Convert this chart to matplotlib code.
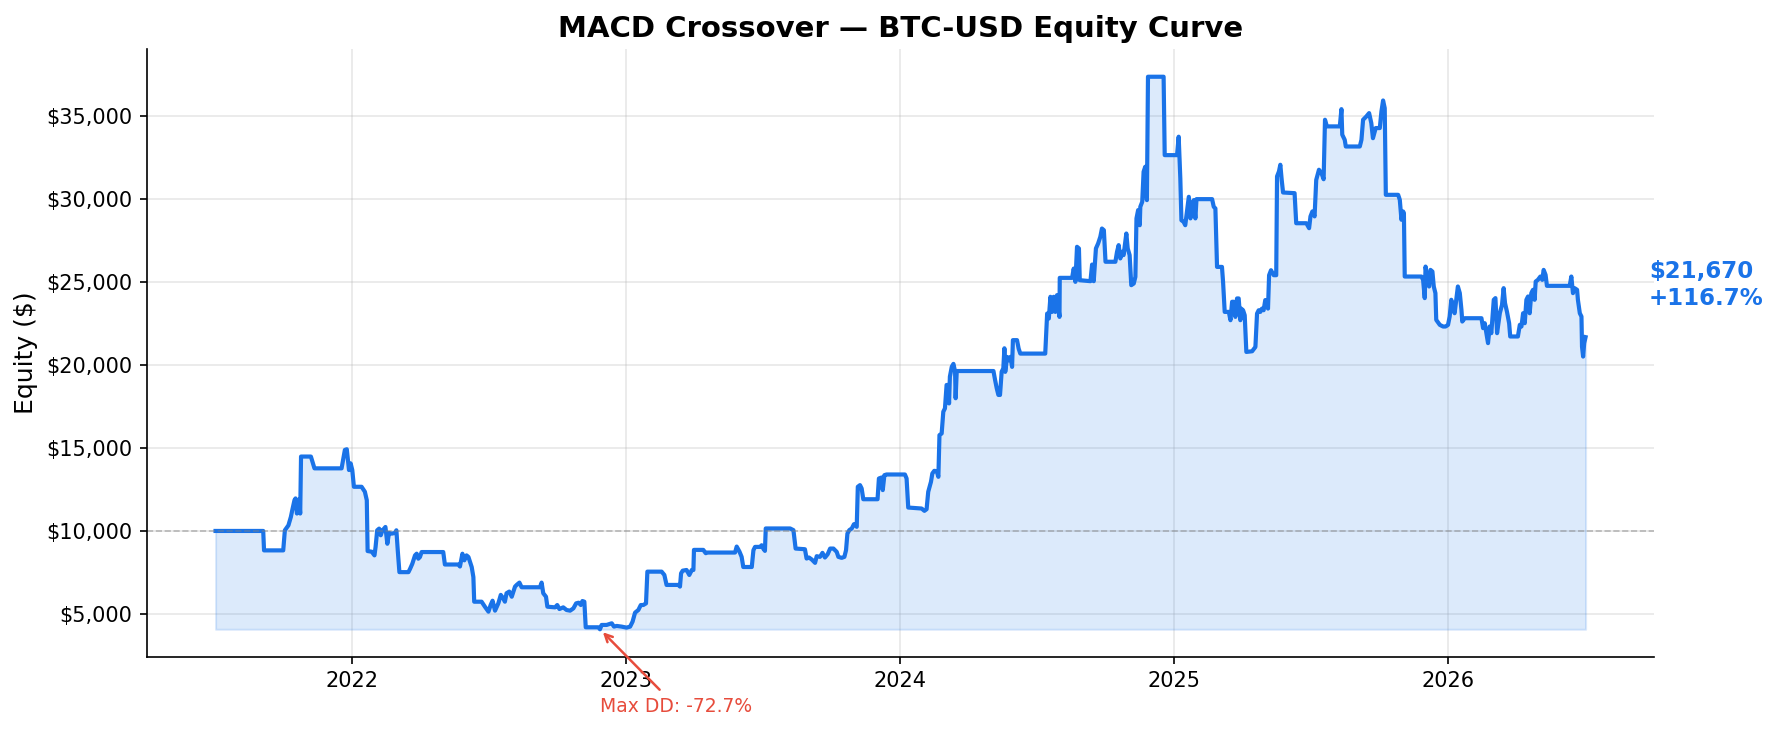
import matplotlib
matplotlib.use("Agg")
import matplotlib.pyplot as plt
from matplotlib.ticker import MultipleLocator, FuncFormatter
import numpy as np

# ---- data (decimal year, equity $) ----
years = [
    2021.502, 2021.676, 2021.679, 2021.749, 2021.755, 2021.768, 2021.777, 2021.782, 2021.790, 2021.794,
    2021.799, 2021.807, 2021.811, 2021.814, 2021.850, 2021.863, 2021.962, 2021.974, 2021.981, 2021.989,
    2021.995, 2022.001, 2022.007, 2022.035, 2022.047, 2022.054, 2022.057, 2022.072, 2022.082, 2022.086,
    2022.092, 2022.099, 2022.105, 2022.111, 2022.117, 2022.122, 2022.129, 2022.135, 2022.145, 2022.157,
    2022.162, 2022.167, 2022.173, 2022.206, 2022.212, 2022.220, 2022.230, 2022.236, 2022.242, 2022.248,
    2022.254, 2022.333, 2022.339, 2022.388, 2022.394, 2022.403, 2022.410, 2022.418, 2022.425, 2022.437,
    2022.443, 2022.446, 2022.473, 2022.485, 2022.498, 2022.506, 2022.513, 2022.522, 2022.534, 2022.543,
    2022.552, 2022.558, 2022.564, 2022.574, 2022.583, 2022.595, 2022.601, 2022.611, 2022.619, 2022.686,
    2022.692, 2022.698, 2022.708, 2022.713, 2022.741, 2022.749, 2022.757, 2022.771, 2022.783, 2022.796,
    2022.808, 2022.818, 2022.827, 2022.835, 2022.841, 2022.848, 2022.853, 2022.899, 2022.905, 2022.911,
    2022.929, 2022.948, 2022.956, 2022.966, 2022.984, 2023.002, 2023.015, 2023.024, 2023.033, 2023.045,
    2023.054, 2023.063, 2023.073, 2023.078, 2023.130, 2023.140, 2023.148, 2023.191, 2023.197, 2023.201,
    2023.207, 2023.221, 2023.231, 2023.240, 2023.246, 2023.248, 2023.282, 2023.291, 2023.297, 2023.398,
    2023.404, 2023.414, 2023.422, 2023.428, 2023.459, 2023.465, 2023.471, 2023.489, 2023.495, 2023.501,
    2023.507, 2023.510, 2023.599, 2023.611, 2023.619, 2023.653, 2023.659, 2023.668, 2023.678, 2023.690,
    2023.696, 2023.708, 2023.717, 2023.726, 2023.736, 2023.745, 2023.757, 2023.769, 2023.775, 2023.787,
    2023.797, 2023.803, 2023.808, 2023.815, 2023.824, 2023.832, 2023.842, 2023.846, 2023.854, 2023.860,
    2023.866, 2023.918, 2023.923, 2023.933, 2023.937, 2023.943, 2023.951, 2024.018, 2024.024, 2024.030,
    2024.079, 2024.089, 2024.097, 2024.103, 2024.113, 2024.118, 2024.125, 2024.134, 2024.140, 2024.144,
    2024.152, 2024.158, 2024.164, 2024.170, 2024.176, 2024.179, 2024.182, 2024.189, 2024.195, 2024.201,
    2024.203, 2024.207, 2024.341, 2024.347, 2024.353, 2024.359, 2024.365, 2024.371, 2024.377, 2024.381,
    2024.384, 2024.391, 2024.397, 2024.403, 2024.409, 2024.412, 2024.427, 2024.433, 2024.439, 2024.530,
    2024.537, 2024.543, 2024.549, 2024.555, 2024.561, 2024.567, 2024.573, 2024.582, 2024.583, 2024.628,
    2024.634, 2024.640, 2024.646, 2024.653, 2024.656, 2024.695, 2024.701, 2024.707, 2024.715, 2024.723,
    2024.731, 2024.737, 2024.744, 2024.750, 2024.786, 2024.792, 2024.798, 2024.804, 2024.810, 2024.816,
    2024.826, 2024.831, 2024.838, 2024.844, 2024.853, 2024.859, 2024.863, 2024.869, 2024.875, 2024.877,
    2024.884, 2024.889, 2024.895, 2024.901, 2024.905, 2024.962, 2024.966, 2025.011, 2025.017, 2025.023,
    2025.027, 2025.035, 2025.041, 2025.047, 2025.054, 2025.060, 2025.066, 2025.072, 2025.078, 2025.082,
    2025.139, 2025.145, 2025.151, 2025.157, 2025.175, 2025.179, 2025.185, 2025.200, 2025.206, 2025.212,
    2025.218, 2025.224, 2025.230, 2025.236, 2025.242, 2025.245, 2025.252, 2025.258, 2025.264, 2025.285,
    2025.297, 2025.303, 2025.309, 2025.315, 2025.321, 2025.327, 2025.333, 2025.339, 2025.343, 2025.347,
    2025.354, 2025.364, 2025.373, 2025.376, 2025.383, 2025.388, 2025.393, 2025.398, 2025.440, 2025.446,
    2025.483, 2025.493, 2025.498, 2025.505, 2025.513, 2025.519, 2025.529, 2025.538, 2025.546, 2025.551,
    2025.558, 2025.605, 2025.611, 2025.614, 2025.623, 2025.627, 2025.678, 2025.684, 2025.690, 2025.702,
    2025.712, 2025.720, 2025.726, 2025.736, 2025.751, 2025.757, 2025.763, 2025.769, 2025.773, 2025.818,
    2025.824, 2025.830, 2025.836, 2025.839, 2025.842, 2025.903, 2025.909, 2025.915, 2025.918, 2025.925,
    2025.931, 2025.936, 2025.943, 2025.948, 2025.954, 2025.957, 2025.970, 2025.982, 2025.991, 2026.000,
    2026.006, 2026.012, 2026.018, 2026.024, 2026.030, 2026.036, 2026.043, 2026.049, 2026.052, 2026.061,
    2026.122, 2026.128, 2026.134, 2026.140, 2026.146, 2026.152, 2026.158, 2026.167, 2026.173, 2026.179,
    2026.189, 2026.197, 2026.203, 2026.208, 2026.215, 2026.223, 2026.227, 2026.255, 2026.262, 2026.268,
    2026.274, 2026.280, 2026.286, 2026.292, 2026.298, 2026.304, 2026.310, 2026.316, 2026.320, 2026.328,
    2026.337, 2026.344, 2026.349, 2026.356, 2026.361, 2026.444, 2026.450, 2026.456, 2026.462, 2026.471,
    2026.474, 2026.481, 2026.487, 2026.489, 2026.493, 2026.497, 2026.502,
]

equity = [
    10000, 10000, 8830, 8830, 10040, 10340, 10850, 11250, 11850, 11960,
    11050, 11900, 11050, 14480, 14480, 13770, 13770, 14880, 14920, 13670,
    14070, 13670, 12660, 12660, 12360, 11850, 8790, 8750, 8530, 9030,
    10040, 10140, 9740, 10040, 10140, 10240, 9230, 9880, 9840, 9880,
    10040, 8830, 7520, 7520, 7720, 8020, 8530, 8630, 8330, 8430,
    8730, 8730, 7980, 7980, 7860, 8630, 8230, 8530, 8430, 7820,
    7220, 5740, 5740, 5440, 5140, 5540, 5800, 5200, 5640, 6150,
    5940, 5740, 6250, 6350, 6040, 6650, 6750, 6890, 6610, 6610,
    6890, 6250, 6040, 5440, 5400, 5540, 5300, 5400, 5240, 5200,
    5340, 5640, 5680, 5540, 5780, 5740, 4200, 4200, 4080, 4340,
    4340, 4440, 4240, 4280, 4240, 4180, 4240, 4540, 5080, 5240,
    5540, 5540, 5640, 7550, 7550, 7350, 6750, 6750, 6650, 7450,
    7610, 7650, 7350, 7650, 7650, 8860, 8860, 8660, 8700, 8700,
    9060, 8760, 8440, 7830, 7830, 8840, 9040, 9040, 9140, 8940,
    8800, 10150, 10150, 10050, 8940, 8900, 8340, 8400, 8280, 8080,
    8480, 8440, 8680, 8400, 8600, 8940, 8940, 8740, 8440, 8380,
    8440, 8840, 9840, 10050, 10150, 10410, 10250, 12660, 12760, 12560,
    11910, 11910, 13160, 13220, 12460, 13360, 13400, 13400, 13160, 11410,
    11350, 11210, 11310, 12360, 12960, 13460, 13620, 13600, 13260, 15770,
    15870, 17180, 17380, 18790, 18790, 17680, 19290, 19890, 20060, 19590,
    17990, 19630, 19630, 19090, 18590, 18190, 18190, 19590, 19790, 21000,
    19580, 20480, 20280, 20480, 19880, 21490, 21490, 20980, 20680, 20680,
    23090, 22790, 24100, 23190, 24100, 23190, 24200, 22890, 25240, 25240,
    25800, 25000, 27110, 27010, 25100, 25040, 26040, 25040, 27010, 27310,
    27710, 28210, 28110, 26210, 26210, 26810, 27210, 26410, 26810, 26610,
    27910, 27010, 26610, 24800, 24900, 25300, 28820, 29320, 28410, 29520,
    29820, 31630, 31930, 29920, 37350, 37350, 32630, 32630, 33740, 31230,
    28710, 28610, 28410, 29220, 30120, 28820, 29620, 29920, 28820, 29980,
    29980, 29520, 29420, 25900, 25900, 25000, 23190, 23190, 22690, 23800,
    23800, 22890, 24000, 24000, 22690, 23390, 23290, 22990, 20780, 20820,
    21080, 23090, 23290, 23190, 23390, 23290, 23900, 23900, 23390, 25400,
    25700, 25400, 25400, 31350, 31650, 32050, 31140, 30380, 30340, 28530,
    28530, 28230, 28940, 29240, 28940, 31140, 31750, 31550, 31180, 34760,
    34360, 34360, 35400, 33860, 33550, 33150, 33150, 33550, 34760, 34960,
    35160, 34560, 33650, 34260, 34260, 35260, 35920, 35460, 30240, 30240,
    29940, 28740, 29240, 29140, 25320, 25320, 25120, 24020, 25920, 25120,
    24720, 25720, 25620, 24720, 24320, 22710, 22410, 22310, 22310, 22410,
    22910, 23920, 23310, 23110, 23920, 24720, 24320, 23310, 22610, 22810,
    22810, 22210, 22510, 21910, 21310, 22310, 21910, 23920, 24020, 21910,
    23110, 23610, 24620, 23720, 23210, 22510, 21710, 21710, 22410, 22310,
    23110, 22510, 23920, 24120, 23110, 24320, 24520, 23920, 25020, 25120,
    25320, 25120, 25720, 25420, 24760, 24760, 25320, 24320, 24620, 24520,
    23920, 23110, 22910, 21100, 20500, 21310, 21670,
]

initial_capital = 10000
title_text = "MACD Crossover \u2014 BTC-USD Equity Curve"
ylabel_text = "Equity ($)"
dd_label = "Max DD: -72.7%"

assert len(years) == len(equity)

blue = "#1a73e8"
red = "#e74c3c"

x = np.array(years)
y = np.array(equity, dtype=float)

fig = plt.figure(figsize=(1778 / 150, 732 / 150), dpi=150)
ax = fig.add_axes([0.0827, 0.1026, 0.8476, 0.8303])

ax.fill_between(x, y, y.min(), color=blue, alpha=0.15)
ax.plot(x, y, color=blue, lw=2)
ax.axhline(initial_capital, color="gray", ls="--", lw=0.8, alpha=0.5)

ax.xaxis.set_major_locator(MultipleLocator(1))
ax.xaxis.set_major_formatter(FuncFormatter(lambda v, p: f"{int(round(v))}"))
ax.yaxis.set_major_locator(MultipleLocator(5000))
ax.yaxis.set_major_formatter(FuncFormatter(lambda v, p: f"${v:,.0f}"))

ax.grid(True, alpha=0.3)
ax.set_axisbelow(True)
for s in ("top", "right"):
    ax.spines[s].set_visible(False)

ax.set_title(title_text, fontsize=14, fontweight="bold")
ax.set_ylabel(ylabel_text, fontsize=12)

# max drawdown annotation
imin = int(np.argmin(y))
ax.annotate(dd_label, xy=(x[imin], y[imin]), xytext=(0, -37),
            textcoords="offset points", ha="left", va="center",
            fontsize=9, color=red,
            arrowprops=dict(arrowstyle="->", color=red, lw=1.2),
            annotation_clip=False)

# final value annotation
final = y[-1]
ret = (final / initial_capital - 1) * 100
ax.annotate(f"${final:,.0f}\n{ret:+.1f}%", xy=(x[-1], final), xytext=(30.5, 25),
            textcoords="offset points", ha="left", va="center",
            fontsize=11, fontweight="bold", color=blue, annotation_clip=False)

fig.savefig("out.png", dpi=150)
